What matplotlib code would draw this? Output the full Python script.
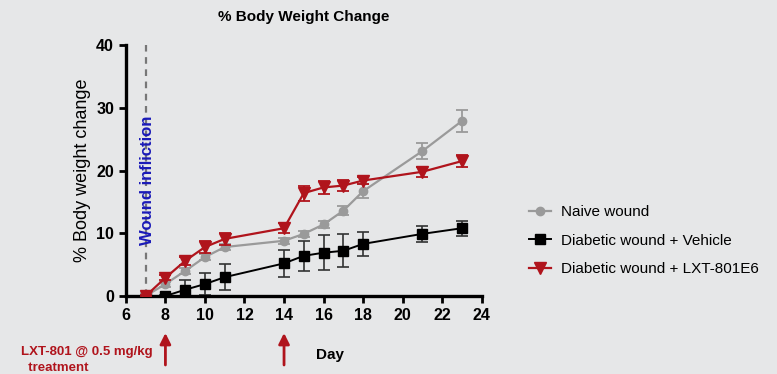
import matplotlib
matplotlib.use('Agg')
import matplotlib.pyplot as plt
from matplotlib.lines import Line2D

plt.rcParams['font.family'] = ['Liberation Sans', 'DejaVu Sans']

# body weight change per group (mean and error)
days = [7, 8, 9, 10, 11, 14, 15, 16, 17, 18, 21, 23]
naive = [0, 1.9, 4.0, 6.2, 7.8, 8.8, 9.9, 11.4, 13.6, 16.7, 23.1, 27.9]
naive_err = [0.3, 0.4, 0.5, 0.5, 0.5, 0.5, 0.5, 0.6, 0.7, 1.1, 1.3, 1.8]
vehicle = [0, 0, 1.0, 1.9, 3.0, 5.2, 6.4, 6.9, 7.2, 8.3, 9.9, 10.8]
vehicle_err = [0.2, 0.2, 1.5, 1.8, 2.1, 2.2, 2.4, 2.8, 2.6, 1.9, 1.3, 1.2]
lxt = [0, 2.9, 5.6, 7.8, 9.1, 10.8, 16.4, 17.3, 17.6, 18.4, 19.8, 21.5]
lxt_err = [0.2, 0.4, 0.6, 1.0, 1.0, 0.8, 1.2, 1.0, 0.9, 0.6, 0.8, 1.0]

treatment_days = [8, 14]

bg = '#e6e7e8'
red = '#b0141c'
grey = '#9a9a9a'

fig = plt.figure(figsize=(7.77, 3.74), dpi=100, facecolor=bg)
ax = fig.add_axes([0.162, 0.2086, 0.458, 0.671], facecolor=bg)

ax.errorbar(days, naive, yerr=naive_err, color=grey, marker='o', ms=6,
            lw=1.6, capsize=4, elinewidth=1.3, capthick=1.3, zorder=3)
ax.errorbar(days, vehicle, yerr=vehicle_err, color='black', marker='s', ms=6.5,
            lw=1.4, capsize=4, elinewidth=1.2, ecolor='#333333', capthick=1.2, zorder=2)
ax.errorbar(days, lxt, yerr=lxt_err, color=red, marker='v', ms=8,
            lw=1.6, capsize=4, elinewidth=1.3, capthick=1.3, zorder=4)

ax.axvline(7, color='#777777', ls=(0, (3, 2.5)), lw=1.6, zorder=1)
ax.text(7.1, 18.5, 'Wound infliction', rotation=90, color='#1a1ab8',
        fontsize=12, fontweight='bold', ha='center', va='center', zorder=5)

ax.set_xlim(6, 24)
ax.set_ylim(0, 40)
ax.set_xticks(range(6, 25, 2))
ax.set_yticks(range(0, 41, 10))
for s in ['top', 'right']:
    ax.spines[s].set_visible(False)
for s in ['left', 'bottom']:
    ax.spines[s].set_linewidth(2.4)
ax.tick_params(width=2, length=5, labelsize=11.5)
for lab in ax.get_xticklabels() + ax.get_yticklabels():
    lab.set_fontweight('bold')

ax.set_title('% Body Weight Change', fontsize=11, fontweight='bold', pad=17)
ax.set_ylabel('% Body weight change', fontsize=13, labelpad=4)
ax.text(16.3, -9.4, 'Day', fontsize=11, fontweight='bold', ha='center', va='center')

# treatment arrows under the x axis
for d in treatment_days:
    ax.annotate('', xy=(d, -5.9), xytext=(d, -11.0), xycoords='data',
                arrowprops=dict(arrowstyle='-|>', color=red, lw=2,
                                mutation_scale=16, shrinkA=0, shrinkB=0),
                annotation_clip=False)
fig.text(0.027, 0.038, 'LXT-801 @ 0.5 mg/kg\n  treatment', color=red,
         fontsize=9.5, fontweight='bold', ha='left', va='center', linespacing=1.45)

handles = [
    Line2D([], [], color=grey, marker='o', ms=6, lw=1.6),
    Line2D([], [], color='black', marker='s', ms=6.5, lw=1.4),
    Line2D([], [], color=red, marker='v', ms=8, lw=1.6),
]
labels = ['Naive wound', 'Diabetic wound + Vehicle', 'Diabetic wound + LXT-801E6']
ax.legend(handles, labels, loc='center left', bbox_to_anchor=(1.095, 0.22),
          frameon=False, fontsize=11, handlelength=1.4, labelspacing=0.95,
          handletextpad=0.7)

fig.savefig('out.png', dpi=100, facecolor=bg)
